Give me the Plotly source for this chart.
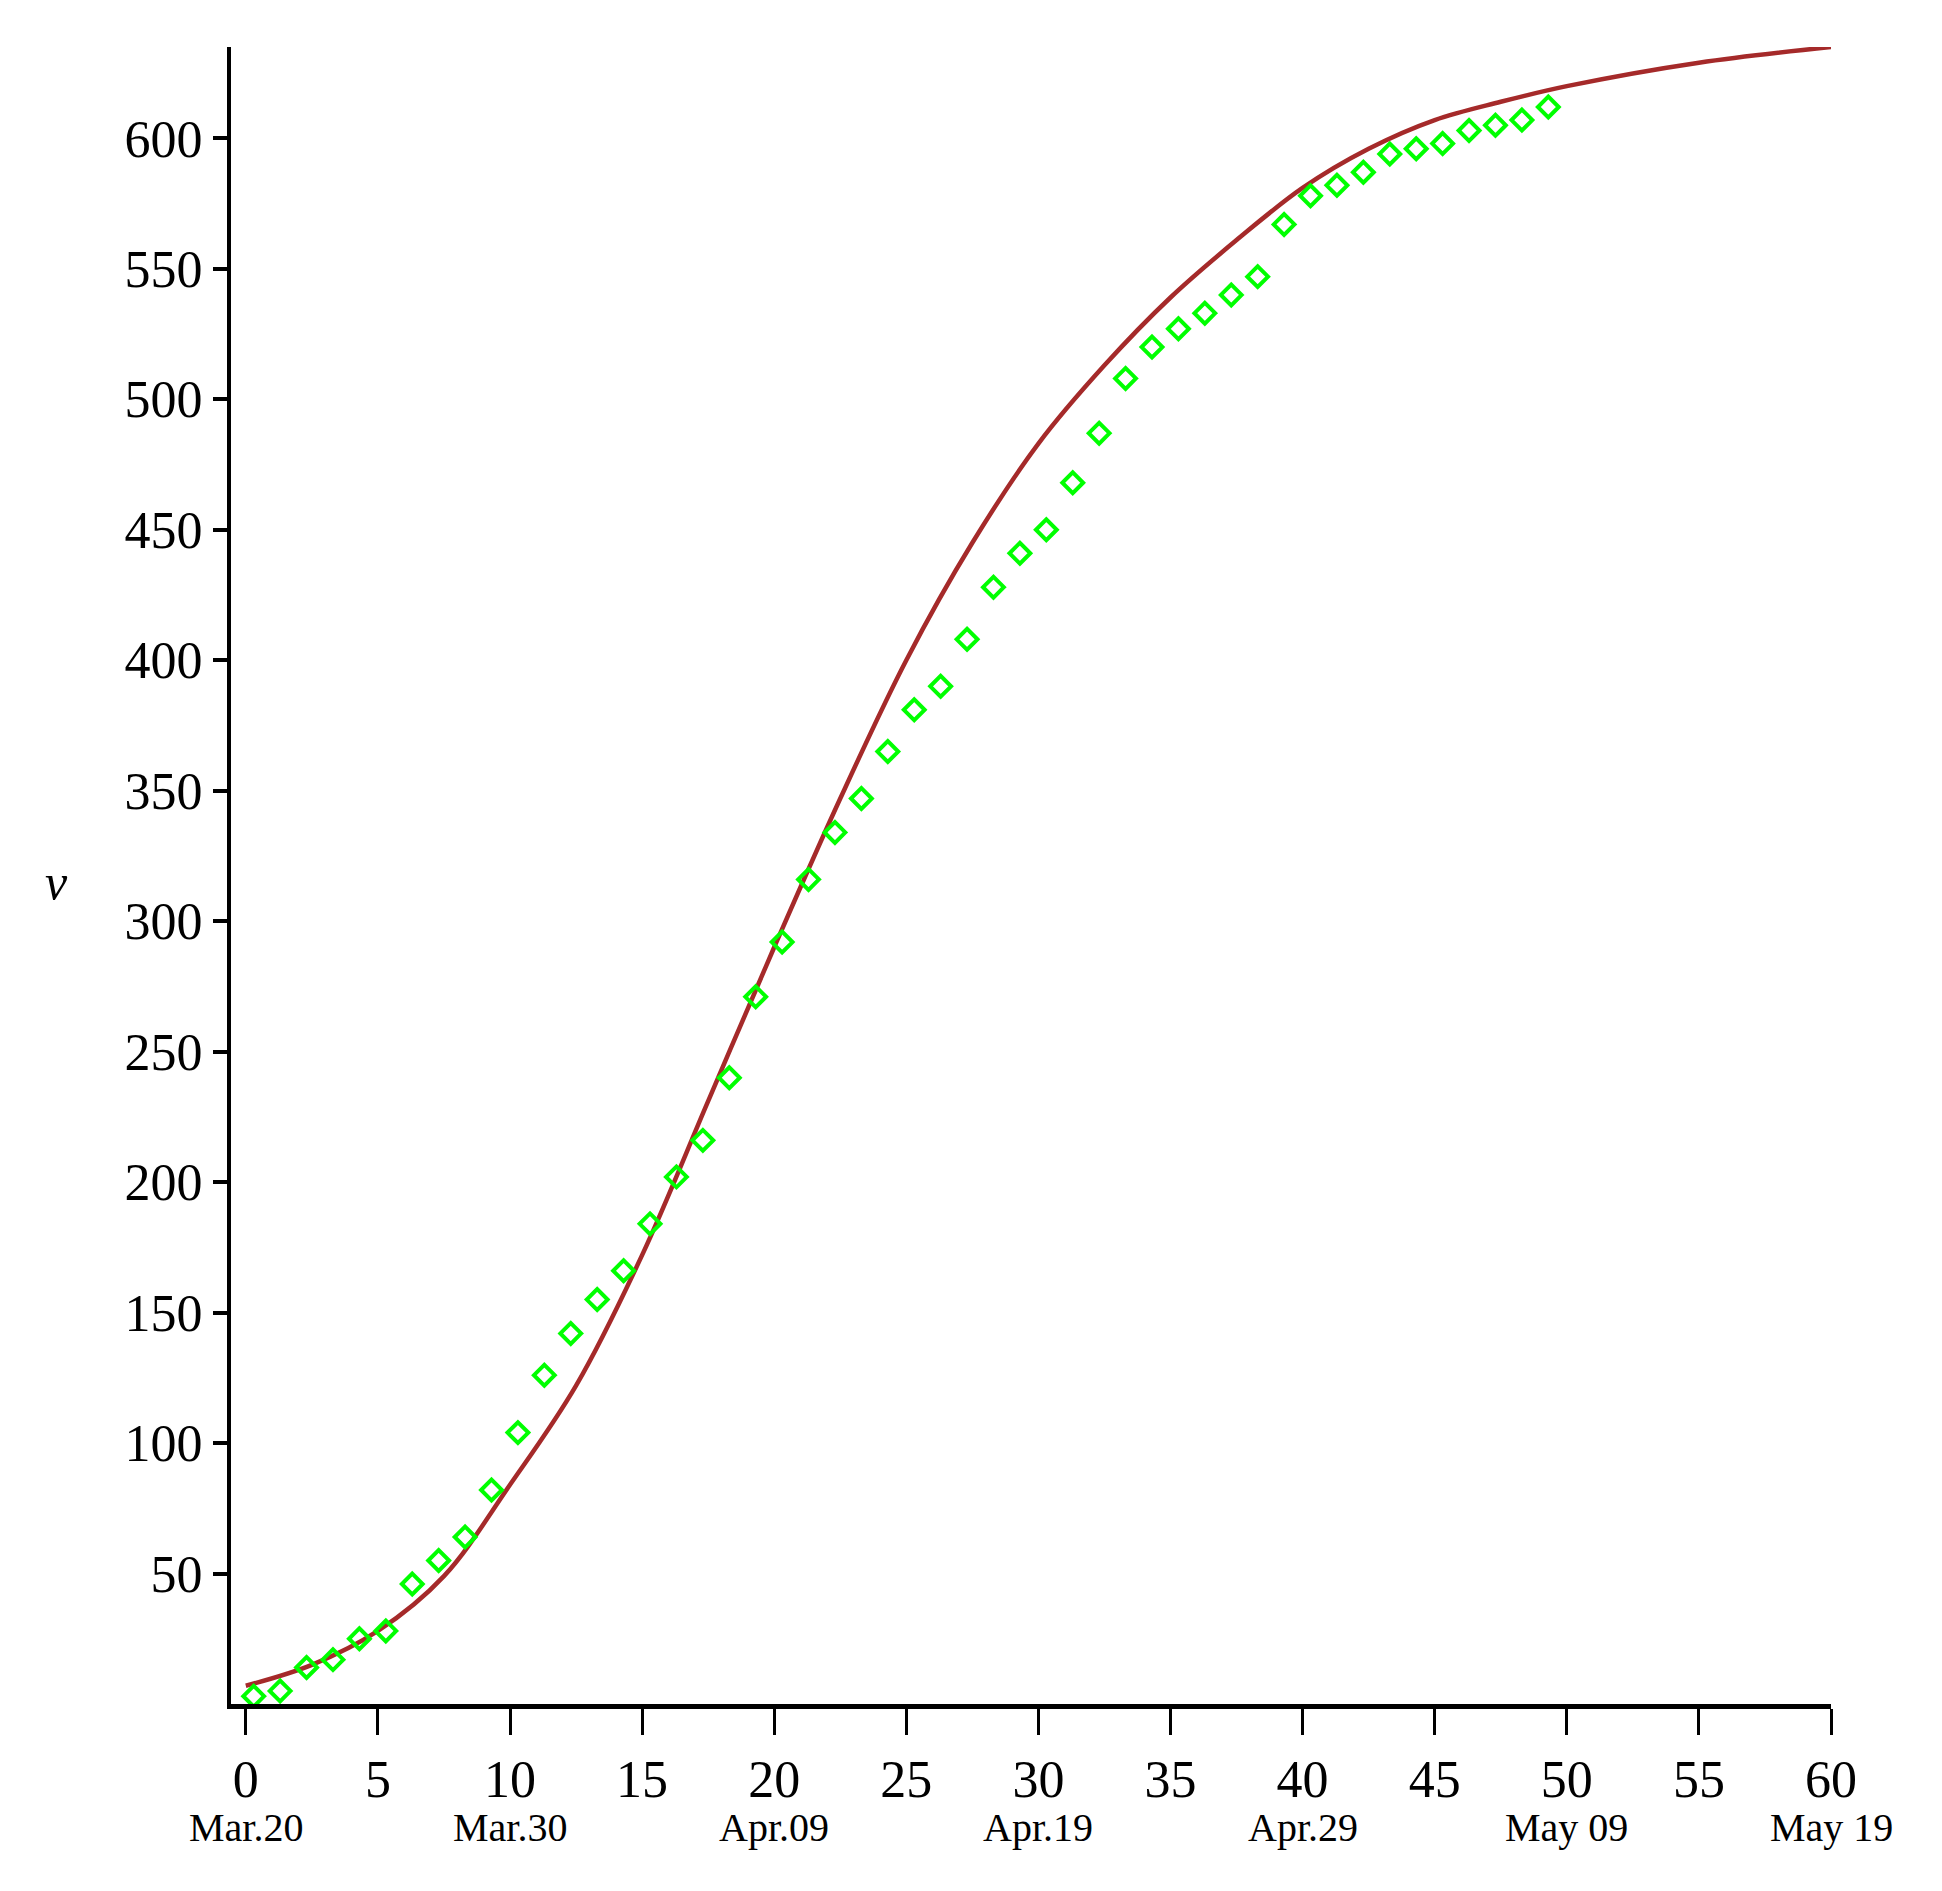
import plotly.graph_objects as go

obs_x = [i + 0.3 for i in range(50)]
obs_y = [3, 5, 14, 17, 25, 28, 46, 55, 64, 82, 104, 126, 142, 155, 166, 184, 202, 216, 240, 271,
         292, 316, 334, 347, 365, 381, 390, 408, 428, 441, 450, 468, 487, 508, 520, 527, 533, 540, 547, 567,
         578, 582, 587, 594, 596, 598, 603, 605, 607, 612]
fit_x = [0, 2.5, 5, 7.5, 10, 12.5, 15, 17.5, 20, 22.5, 25, 27.5, 30, 32.5, 35, 37.5, 40, 42.5, 45, 47.5, 50, 55, 60]
fit_y = [7, 15, 28, 49, 84, 122, 172, 231, 290, 347, 400, 445, 483, 513, 539, 561, 581, 596, 607, 614, 620, 629, 635]
date_x = [0, 10, 20, 30, 40, 50, 60]
date_labels = ["Mar.20", "Mar.30", "Apr.09", "Apr.19", "Apr.29", "May 09", "May 19"]

fig = go.Figure()
fig.add_trace(go.Scatter(x=fit_x, y=fit_y, mode="lines",
                         line=dict(color="#a52a2a", width=4.5, shape="spline", smoothing=1.0),
                         showlegend=False))
fig.add_trace(go.Scatter(x=obs_x, y=obs_y, mode="markers",
                         marker=dict(symbol="diamond-open", size=16, color="#00ff00", line=dict(width=4, color="#00ff00")),
                         showlegend=False))
for dx, lab in zip(date_x, date_labels):
    fig.add_annotation(x=dx, y=0, xref="x", yref="paper", text=lab, showarrow=False,
                       yshift=-148, font=dict(size=40, family="Liberation Serif", color="black"))
fig.add_annotation(x=-0.56, y=315, xref="x", yref="y", text="<i>v</i>", showarrow=False, xshift=-175,
                   font=dict(size=50, family="Liberation Serif", color="black"))
fig.update_layout(
    width=1942, height=1891, plot_bgcolor="white", paper_bgcolor="white",
    margin=dict(l=223, r=119, t=39, b=195),
    font=dict(family="Liberation Serif", size=52, color="black"),
)
fig.update_xaxes(range=[-0.56, 60], tickvals=list(range(0, 61, 5)), showgrid=False, zeroline=False,
                 showline=True, linecolor="black", linewidth=5, ticks="outside", ticklen=26, tickwidth=3,
                 tickcolor="black")
fig.update_yaxes(range=[0, 635], tickvals=list(range(50, 601, 50)), showgrid=False, zeroline=False,
                 showline=True, linecolor="black", linewidth=4, ticks="outside", ticklen=14, tickwidth=4,
                 tickcolor="black")
fig.write_html("out.html")
